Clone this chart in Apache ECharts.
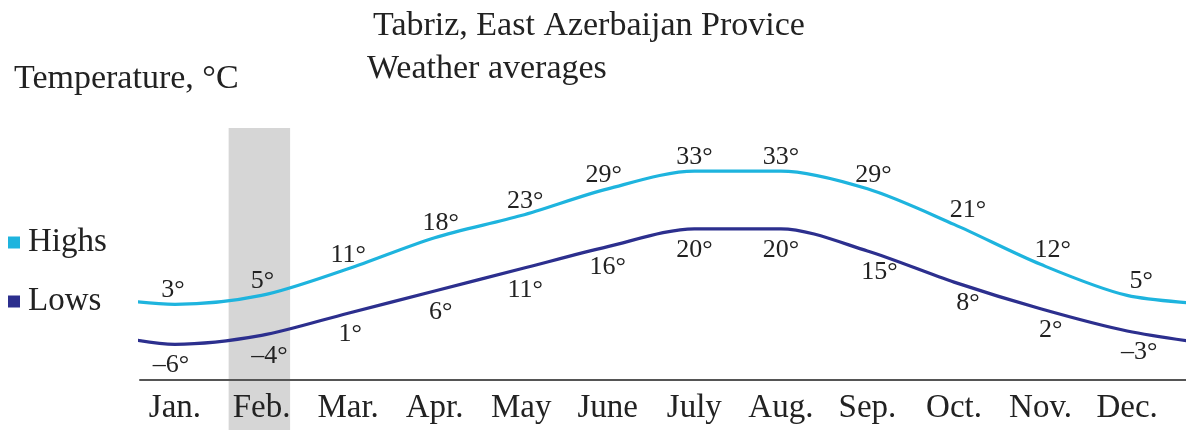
<!DOCTYPE html>
<html><head><meta charset="utf-8">
<script src="https://cdn.jsdelivr.net/npm/echarts@6/dist/echarts.min.js"></script>
<style>html,body{margin:0;padding:0;background:#fff}#c{width:1186px;height:430px}</style>
</head><body><div id="c"></div>
<script>
const months = ['Jan.','Feb.','Mar.','Apr.','May','June','July','Aug.','Sep.','Oct.','Nov.','Dec.'];
const highs = [3, 5, 11, 18, 23, 29, 33, 33, 29, 21, 12, 5];
const lows = [-6, -4, 1, 6, 11, 16, 20, 20, 15, 8, 2, -3];
const highlightMonth = 'Feb.';
// small horizontal nudges of the value labels (style only)
const highShift = [-2, 1, 0, 6, 4, -4, 0, 0, 6, 14, 12, 14];
const lowShift = [-4, 8, 2, 6, 4, 0, 0, 0, 12, 14, 10, 12];

const FONT = '"Liberation Serif","DejaVu Serif",serif';
function deg(v){ return (v < 0 ? '\u2013' + Math.abs(v) : '' + v) + '\u00b0'; }
// wrap the yearly cycle: Dec before Jan, Jan after Dec
function buildSeries(vals, shifts){
  const pts = [{value:[0, vals[11]], label:{show:false}}];
  vals.forEach((v,i)=>pts.push({value:[i+1, v], label:{offset:[shifts[i],0]}}));
  pts.push({value:[13, vals[0]], label:{show:false}});
  return pts;
}
const fi = months.indexOf(highlightMonth) + 1;
const chart = echarts.init(document.getElementById('c'));
const T = {fontFamily:FONT,fontWeight:'normal',fontSize:34,color:'#222'};
chart.setOption({
  animation:false,
  textStyle:{fontFamily:FONT},
  title:[
    {text:'Tabriz, East Azerbaijan Provice', left:368, top:4, textStyle:T},
    {text:'Weather averages', left:362, top:47, textStyle:T},
    {text:'Temperature, \u00b0C', left:9, top:57, textStyle:T}
  ],
  legend:{orient:'vertical', left:3, top:221, itemGap:26, icon:'rect', itemWidth:12, itemHeight:12,
    textStyle:{fontFamily:FONT,fontSize:33,color:'#222',padding:[0,0,0,3]}, data:['Highs','Lows']},
  grid:{left:140, right:0, top:128, bottom:0},
  xAxis:{type:'value', min:0.596, max:12.68, offset:-50, z:10,
    axisLine:{show:true, onZero:false, lineStyle:{color:'#555', width:2}},
    axisTick:{show:false}, splitLine:{show:false},
    axisLabel:{customValues:[1,2,3,4,5,6,7,8,9,10,11,12], showMinLabel:true, showMaxLabel:true,
      formatter:v=>months[Math.round(v)-1]||'', fontFamily:FONT, fontSize:33, color:'#222', margin:12}},
  yAxis:{type:'value', min:-25.3, max:42.7, show:false},
  series:[
    {name:'Highs', type:'line', smooth:0.3, symbol:'circle', symbolSize:0.1, data:buildSeries(highs, highShift),
      itemStyle:{color:'#1eb4de'}, lineStyle:{color:'#1eb4de', width:3.2},
      label:{show:true, position:'top', distance:1, formatter:p=>deg(p.value[1]), fontFamily:FONT, fontSize:26, color:'#222'},
      markArea:{silent:true, z:0, itemStyle:{color:'#d6d6d6'}, data:[[{xAxis:fi-0.38},{xAxis:fi+0.33}]]},
      z:3},
    {name:'Lows', type:'line', smooth:0.3, symbol:'circle', symbolSize:0.1, data:buildSeries(lows, lowShift),
      itemStyle:{color:'#2c2f8e'}, lineStyle:{color:'#2c2f8e', width:3.2},
      label:{show:true, position:'bottom', distance:8, formatter:p=>deg(p.value[1]), fontFamily:FONT, fontSize:26, color:'#222'},
      z:3}
  ]
});
</script></body></html>
